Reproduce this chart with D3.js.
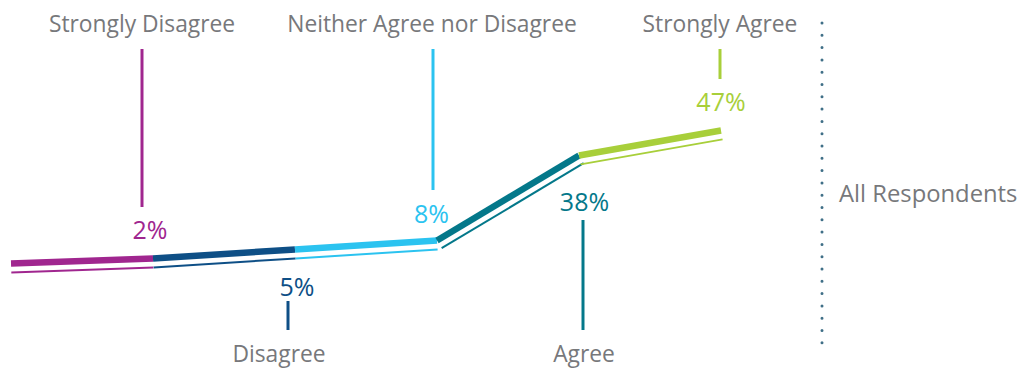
<!DOCTYPE html>
<html>
<head>
<meta charset="utf-8">
<script src="https://cdn.jsdelivr.net/npm/d3@7"></script>
<style>
  html, body { margin: 0; padding: 0; background: #ffffff; }
  svg { display: block; }
  text { font-family: "Open Sans", "Noto Sans", sans-serif; }
</style>
</head>
<body>
<svg id="chart" width="1026" height="369"></svg>
<script>
// ---- data ----
const categories = ["Strongly Disagree", "Disagree", "Neither Agree nor Disagree", "Agree", "Strongly Agree"];
const percentages = [2, 5, 8, 38, 47];
// height of the trend line at each segment boundary (start + end of each category)
const trendLevels = [0, 5, 14, 23, 108, 133];
const groupLabel = "All Respondents";
const colors = ["#a0268f", "#0e4f86", "#2bc3f0", "#04788a", "#a8cf3a"];

// ---- layout ----
const svg = d3.select("#chart");
const x = d3.scaleLinear().domain([0, categories.length]).range([11, 721]);
const y = d3.scaleLinear().domain([0, 133]).range([263.5, 130.5]);
// label placement (layout only): above/below the line, horizontal nudges
const side = ["top", "bottom", "top", "bottom", "top"];
const tickDx = [-11, -7, -4, 4, -1];
const pctDx = [8, 9, -1.5, 1.5, 1];
const nameDx = [0, -9, -1, 1, 0];
const tickTopEnd = [207, 0, 190, 0, 79];     // bottom end of ticks from top labels
const tickBottomStart = [0, 301, 0, 220, 0]; // top end of ticks of bottom labels
const pctBaseline = [238.5, 296, 222.5, 210.5, 111];

// thick + thin (offset) segments
const thin = 2, thick = 6.5, offset = 9;
categories.forEach((c, i) => {
  const x0 = x(i), y0 = y(trendLevels[i]), x1 = x(i + 1), y1 = y(trendLevels[i + 1]);
  const dx = x1 - x0, dy = y1 - y0, len = Math.hypot(dx, dy);
  const nx = -dy / len * offset, ny = dx / len * offset;
  svg.append("line")
    .attr("x1", x0 + nx).attr("y1", y0 + ny).attr("x2", x1 + nx).attr("y2", y1 + ny)
    .attr("stroke", colors[i]).attr("stroke-width", thin);
  svg.append("line")
    .attr("x1", x0).attr("y1", y0).attr("x2", x1).attr("y2", y1)
    .attr("stroke", colors[i]).attr("stroke-width", thick);
});

// labels
const nameSize = 22.8, pctSize = 25;
categories.forEach((c, i) => {
  const cx = x(i + 1);
  if (side[i] === "top") {
    svg.append("text").attr("x", cx + nameDx[i] + tickDx[i]).attr("y", 32)
      .attr("text-anchor", "middle").attr("font-size", nameSize).attr("fill", "#77787b").text(c);
    svg.append("line").attr("x1", cx + tickDx[i]).attr("x2", cx + tickDx[i])
      .attr("y1", 49).attr("y2", tickTopEnd[i])
      .attr("stroke", colors[i]).attr("stroke-width", 3);
  } else {
    svg.append("text").attr("x", cx + nameDx[i] + tickDx[i]).attr("y", 362)
      .attr("text-anchor", "middle").attr("font-size", nameSize).attr("fill", "#77787b").text(c);
    svg.append("line").attr("x1", cx + tickDx[i]).attr("x2", cx + tickDx[i])
      .attr("y1", tickBottomStart[i]).attr("y2", 330)
      .attr("stroke", colors[i]).attr("stroke-width", 3);
  }
  svg.append("text").attr("x", cx + tickDx[i] + pctDx[i]).attr("y", pctBaseline[i])
    .attr("text-anchor", "middle").attr("font-size", pctSize).attr("fill", colors[i])
    .text(percentages[i] + "%");
});

// dotted divider and group label
svg.append("line").attr("x1", 822).attr("x2", 822).attr("y1", 23).attr("y2", 352)
  .attr("stroke", "#3f6f87").attr("stroke-width", 3)
  .attr("stroke-linecap", "round").attr("stroke-dasharray", "0 12.3");
svg.append("text").attr("x", 839).attr("y", 201.5).attr("font-size", 23.8)
  .attr("fill", "#77787b").text(groupLabel);
</script>
</body>
</html>
